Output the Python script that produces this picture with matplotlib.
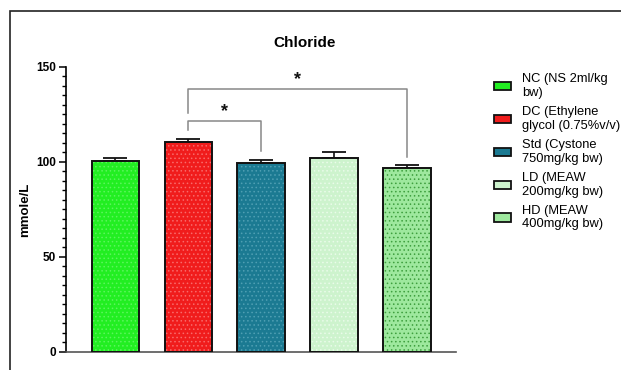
import numpy as np
import matplotlib.pyplot as plt
from matplotlib.patches import Patch, Rectangle

plt.rcParams["font.family"] = ["Liberation Sans", "DejaVu Sans"]
plt.rcParams["hatch.linewidth"] = 0.6

# serum chloride, mean + SEM per group
groups = ["NC", "DC", "Std", "LD", "HD"]
labels = [
    "NC (NS 2ml/kg\nbw)",
    "DC (Ethylene\nglycol (0.75%v/v)",
    "Std (Cystone\n750mg/kg bw)",
    "LD (MEAW\n200mg/kg bw)",
    "HD (MEAW\n400mg/kg bw)",
]
means = [100.3, 110.4, 99.5, 101.9, 97.0]
sem = [1.8, 1.9, 1.5, 3.5, 1.2]

colors = ["#22ee22", "#f01c1c", "#1b7a92", "#cdf3cd", "#9ee89e"]
dots = ["#5cf55c", "#f86a6a", "#4f9fb3", "#e9fbe9", "#3f9f3f"]

# significance brackets: (bar a, bar b), height, leg ends, label
pairs = [(1, 2), (1, 4)]
bracket_y = [121.7, 138.6]
leg_low = [(117.0, 106.0), (126.0, 102.8)]
stars = ["*", "*"]

fig = plt.figure(figsize=(6.21, 3.70), dpi=100)
ax = fig.add_axes([0.1063, 0.049, 0.628, 0.770])

x = np.arange(len(groups))
width = 0.65
ax.bar(x, means, width, color=colors, edgecolor=dots, hatch="....", linewidth=0, zorder=2)
ax.bar(x, means, width, fill=False, edgecolor="#111111", linewidth=1.4, zorder=3)
ax.errorbar(x, means, yerr=[np.zeros(len(sem)), sem], fmt="none", ecolor="#111111",
            elinewidth=1.2, capsize=8.3, capthick=1.3, zorder=1)

for (a, b), y, (la, lb), s in zip(pairs, bracket_y, leg_low, stars):
    ax.plot([a, a, b, b], [la, y, y, lb], color="#888888", lw=1.1, zorder=4, clip_on=False)
    ax.text((a + b) / 2, y + 0.3, s, ha="center", va="bottom", fontsize=13,
            fontweight="bold", color="#111111")

ax.set_xlim(-0.675, 4.67)
ax.set_ylim(0, 150)
ax.set_yticks([0, 50, 100, 150])
ax.set_yticks(np.arange(0, 151, 5), minor=True)
ax.set_xticks([])
ax.tick_params(axis="y", which="major", length=5, width=1.1, labelsize=8.5, pad=2)
ax.tick_params(axis="y", which="minor", length=3, width=1.0)
for t in ax.get_yticklabels():
    t.set_fontweight("bold")
ax.set_ylabel("mmole/L", fontsize=9.5, fontweight="bold")
ax.yaxis.set_label_coords(-0.09, 0.5)
for side in ["top", "right"]:
    ax.spines[side].set_visible(False)
ax.spines["left"].set_linewidth(1.2)
ax.spines["bottom"].set_linewidth(1.2)
ax.spines["bottom"].set_color("#555555")

fig.text(0.491, 0.884, "Chloride", ha="center", va="center", fontsize=11, fontweight="bold")

handles = [Patch(facecolor=c, edgecolor="#111111", linewidth=1.3) for c in colors]
fig.legend(handles, labels, loc="upper left", bbox_to_anchor=(0.785, 0.82),
           frameon=False, fontsize=9.3, handlelength=1.3, handleheight=0.6,
           handletextpad=0.85, labelspacing=0.55, borderpad=0)

# outer panel frame
fig.patches.append(Rectangle((0.0153, -0.5), 1.5, 1.47, transform=fig.transFigure,
                             fill=False, edgecolor="#222222", linewidth=1.2))

fig.savefig("out.png", dpi=100)
